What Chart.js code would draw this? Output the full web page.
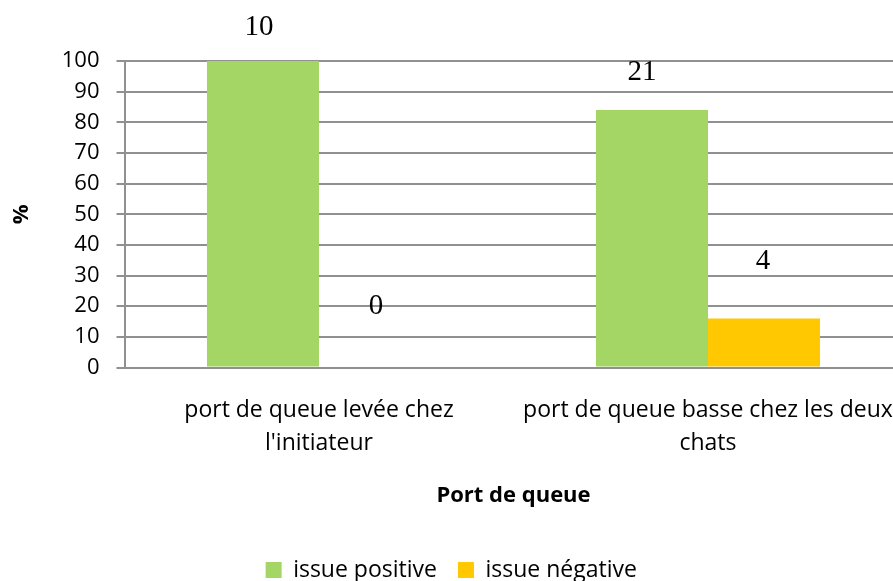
<!DOCTYPE html>
<html lang="fr">
<head>
<meta charset="UTF-8">
<title>Port de queue</title>
<script src="https://cdn.jsdelivr.net/npm/chart.js"></script>
<style>
  html, body { margin: 0; padding: 0; background: #fff; overflow: hidden; }
  .wrap { width: 893px; height: 581px; overflow: hidden; }
  canvas { display: block; }
</style>
</head>
<body>
<div class="wrap"><canvas id="chart" width="910" height="581"></canvas></div>
<script>
// données
const categories = [['port de queue levée chez', "l'initiateur"], ['port de queue basse chez les deux', 'chats']];
const seriesNames = ['issue positive', 'issue négative'];
const positivePct = [100, 84];
const negativePct = [0, 16];
const positiveCounts = [10, 21];
const negativeCounts = [0, 4];
const yTicks = [0, 10, 20, 30, 40, 50, 60, 70, 80, 90, 100];

const sans = '"Open Sans", "Liberation Sans", sans-serif';

// effectifs écrits au-dessus des barres (position décalée comme dans Excel)
const countLabels = {
  id: 'countLabels',
  afterDatasetsDraw(chart, args, opts) {
    const ctx = chart.ctx;
    ctx.save();
    ctx.font = '29px "Liberation Serif", "Times New Roman", serif';
    ctx.fillStyle = '#000';
    ctx.textAlign = 'center';
    ctx.textBaseline = 'alphabetic';
    [positiveCounts, negativeCounts].forEach((counts, d) => {
      chart.getDatasetMeta(d).data.forEach((bar, i) => {
        const o = opts.offsets[d][i];
        ctx.fillText(String(counts[i]), bar.x + o[0], bar.y - o[1]);
      });
    });
    ctx.restore();
  }
};

const ctx = document.getElementById('chart').getContext('2d');
new Chart(ctx, {
  type: 'bar',
  data: {
    labels: categories,
    datasets: [
      { label: seriesNames[0], data: positivePct, backgroundColor: '#a3d665' },
      { label: seriesNames[1], data: negativePct, backgroundColor: '#ffc800' }
    ]
  },
  options: {
    responsive: false,
    animation: false,
    categoryPercentage: 0.576,
    barPercentage: 1,
    layout: { padding: { top: 61, right: 7.5, left: 0, bottom: -10.5 } },
    scales: {
      x: {
        grid: { display: false },
        border: { display: false },
        ticks: { color: '#000', font: { family: sans, size: 23, lineHeight: 1.45 }, padding: 18, maxRotation: 0 },
        title: { display: true, text: 'Port de queue', color: '#000', font: { family: sans, size: 22, weight: 'bold' }, padding: { top: 0, bottom: 29 } },
        afterFit(scale) {
          scale.height = 170;
          scale.paddingLeft = 0;
          scale.paddingRight = 0;
        }
      },
      y: {
        min: 0,
        max: 100,
        afterBuildTicks(scale) { scale.ticks = yTicks.map(v => ({ value: v })); },
        grid: { color: '#909090', lineWidth: 2, tickLength: 8 },
        border: { display: true, color: '#909090', width: 2 },
        ticks: { color: '#000', font: { family: sans, size: 22 }, padding: 17 },
        title: { display: true, text: '%', color: '#000', font: { family: sans, size: 22, weight: 'bold' }, padding: { top: 9, bottom: 0 } },
        afterFit(scale) { scale.width = 124.5; }
      }
    },
    plugins: {
      legend: {
        position: 'bottom',
        labels: { color: '#000', font: { family: sans, size: 23 }, boxWidth: 16, boxHeight: 16, padding: 21 }
      },
      tooltip: { enabled: false },
      countLabels: { offsets: [[[-4, 26], [-10, 30]], [[1, 54], [-1, 49]]] }
    }
  },
  plugins: [countLabels]
});
</script>
</body>
</html>
